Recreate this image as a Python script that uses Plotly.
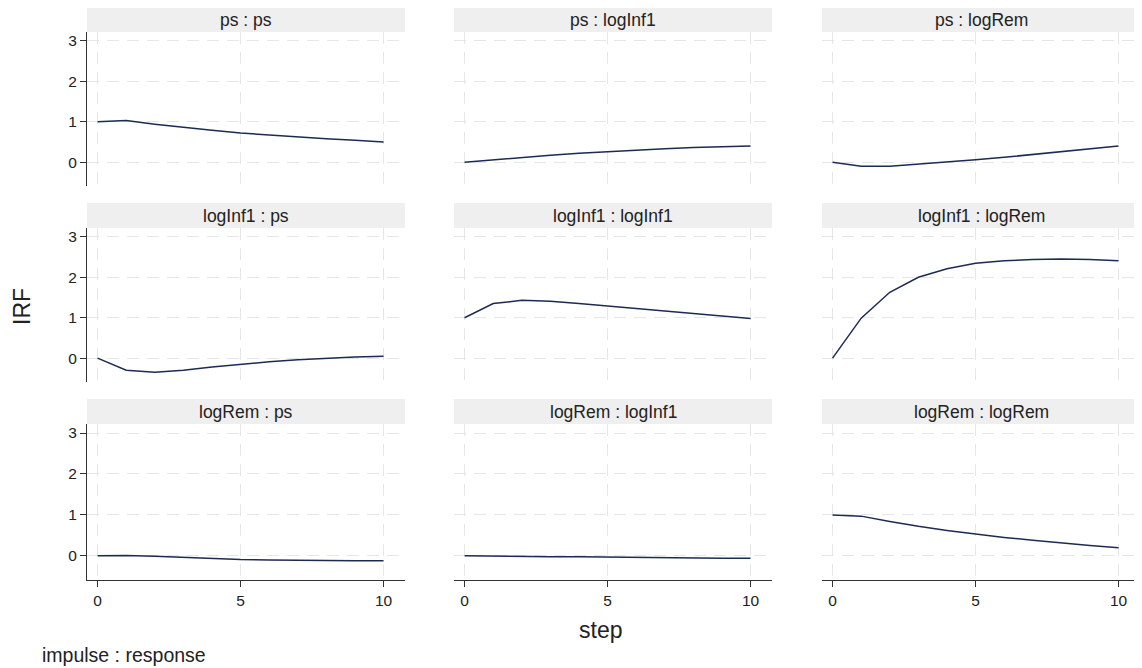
import plotly.graph_objects as go

steps = list(range(11))
variables = ["ps", "logInf1", "logRem"]

# IRF values: irf_<impulse>_<response>
irf_ps_ps = [1.00, 1.03, 0.94, 0.86, 0.79, 0.72, 0.67, 0.62, 0.58, 0.54, 0.50]
irf_ps_logInf1 = [0.00, 0.06, 0.12, 0.17, 0.22, 0.26, 0.30, 0.33, 0.36, 0.38, 0.40]
irf_ps_logRem = [0.00, -0.10, -0.10, -0.05, 0.00, 0.06, 0.12, 0.19, 0.26, 0.33, 0.40]
irf_logInf1_ps = [0.00, -0.30, -0.35, -0.30, -0.22, -0.15, -0.09, -0.04, 0.00, 0.03, 0.05]
irf_logInf1_logInf1 = [1.00, 1.35, 1.43, 1.41, 1.35, 1.29, 1.22, 1.16, 1.10, 1.04, 0.98]
irf_logInf1_logRem = [0.00, 0.99, 1.63, 2.00, 2.21, 2.35, 2.41, 2.44, 2.45, 2.44, 2.41]
irf_logRem_ps = [0.00, 0.01, -0.01, -0.04, -0.07, -0.09, -0.10, -0.11, -0.12, -0.12, -0.12]
irf_logRem_logInf1 = [0.00, -0.01, -0.01, -0.02, -0.02, -0.03, -0.04, -0.04, -0.05, -0.06, -0.06]
irf_logRem_logRem = [1.00, 0.97, 0.84, 0.72, 0.62, 0.53, 0.45, 0.38, 0.31, 0.25, 0.20]

panels = [
    [irf_ps_ps, irf_ps_logInf1, irf_ps_logRem],
    [irf_logInf1_ps, irf_logInf1_logInf1, irf_logInf1_logRem],
    [irf_logRem_ps, irf_logRem_logInf1, irf_logRem_logRem],
]

y_ticks = [0, 1, 2, 3]
x_ticks = [0, 5, 10]

OFF = 8  # browser body margin
W, H = 1142 - OFF, 668 - OFF
col_px = [(87, 405), (454, 772), (822, 1140)]
row_px = [(32, 186), (228, 382), (424, 580)]  # plot area top, bottom (page px)
strip_h = 25


def fx(px):
    return (px - OFF) / W


def fy(py):
    return 1 - (py - OFF) / H


LINE = "#1c2b52"
GRID = "#e6e6e6"
FONT = "Liberation Sans, Arial, sans-serif"

fig = go.Figure()
layout = dict(
    width=W, height=H,
    margin=dict(l=0, r=0, t=0, b=0),
    paper_bgcolor="white", plot_bgcolor="white",
    showlegend=False,
    font=dict(family=FONT, size=15, color="#222"),
)
shapes = []
annotations = []

for r in range(3):
    for c in range(3):
        idx = r * 3 + c + 1
        xa = "x" if idx == 1 else f"x{idx}"
        ya = "y" if idx == 1 else f"y{idx}"
        xkey = "xaxis" if idx == 1 else f"xaxis{idx}"
        ykey = "yaxis" if idx == 1 else f"yaxis{idx}"
        x0, x1 = col_px[c]
        top, bot = row_px[r]
        fig.add_trace(go.Scatter(
            x=steps, y=panels[r][c], mode="lines",
            line=dict(color=LINE, width=1.5),
            xaxis=xa, yaxis=ya, hoverinfo="skip",
        ))
        left = c == 0
        bottom = r == 2
        layout[xkey] = dict(
            domain=[fx(x0), fx(x1)], anchor=ya,
            range=[-0.37, 10.75],
            tickvals=x_ticks, showticklabels=bottom,
            ticks="outside" if bottom else "", ticklen=6, tickcolor="#333",
            showline=bottom, linecolor="#333", linewidth=1,
            showgrid=True, gridcolor=GRID, griddash="12px,8px", gridwidth=1,
            zeroline=False, tickfont=dict(size=15.5, color="#222"),
            automargin=False, fixedrange=True,
        )
        layout[ykey] = dict(
            domain=[fy(bot), fy(top)], anchor=xa,
            range=[-0.59, 3.22],
            tickvals=y_ticks, showticklabels=left,
            ticks="outside" if left else "", ticklen=6, tickcolor="#333",
            showline=left, linecolor="#333", linewidth=1,
            showgrid=True, gridcolor=GRID, griddash="12px,8px", gridwidth=1,
            zeroline=False, tickfont=dict(size=15.5, color="#222"),
            automargin=False, fixedrange=True,
        )
        # header strip
        shapes.append(dict(
            type="rect", xref="paper", yref="paper",
            x0=fx(x0), x1=fx(x1),
            y0=fy(top), y1=fy(top - strip_h),
            fillcolor="#efefef", line=dict(width=0), layer="below",
        ))
        annotations.append(dict(
            xref="paper", yref="paper",
            x=fx((x0 + x1) / 2), y=fy(top - strip_h / 2),
            text=f"{variables[r]} : {variables[c]}",
            showarrow=False, xanchor="center", yanchor="middle",
            font=dict(size=17.5, color="#222"),
        ))

annotations.append(dict(
    xref="paper", yref="paper", x=fx(22), y=fy(307),
    text="IRF", textangle=-90, showarrow=False,
    xanchor="center", yanchor="middle", font=dict(size=23, color="#222"),
))
annotations.append(dict(
    xref="paper", yref="paper", x=fx(600), y=fy(630),
    text="step", showarrow=False,
    xanchor="center", yanchor="middle", font=dict(size=23, color="#222"),
))
annotations.append(dict(
    xref="paper", yref="paper", x=fx(40), y=fy(655),
    text="impulse : response", showarrow=False,
    xanchor="left", yanchor="middle", font=dict(size=19.5, color="#222"),
))

layout["shapes"] = shapes
layout["annotations"] = annotations
fig.update_layout(**layout)
fig.write_html("out.html")
